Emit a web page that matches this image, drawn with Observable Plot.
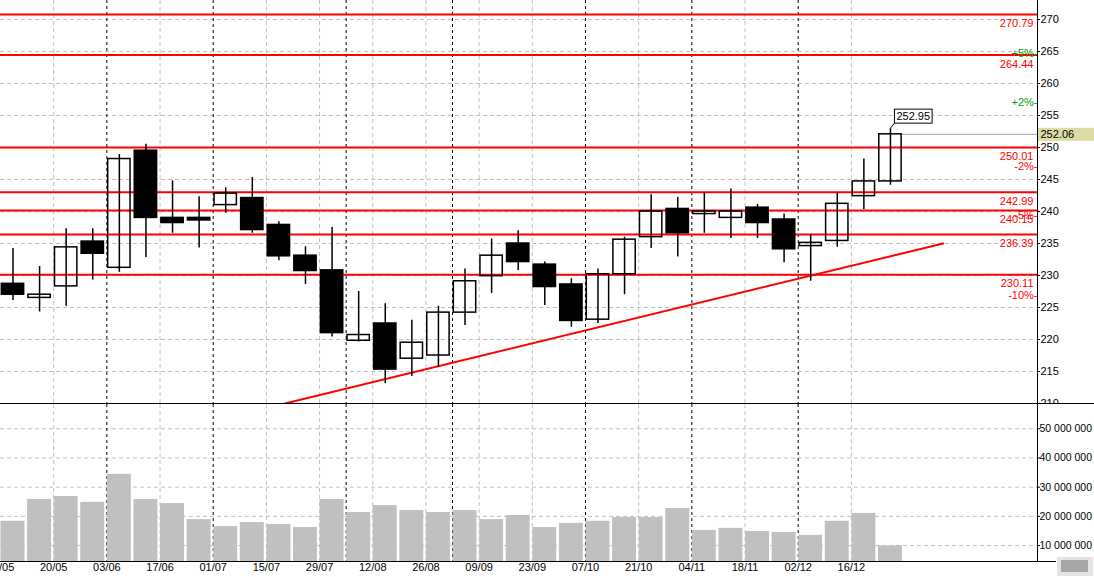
<!DOCTYPE html>
<html><head><meta charset="utf-8">
<script src="https://cdn.jsdelivr.net/npm/d3@7"></script>
<script src="https://cdn.jsdelivr.net/npm/@observablehq/plot@0.6"></script>
<style>
html,body{margin:0;padding:0;background:#fff;}
#chart{position:relative;width:1094px;height:577px;overflow:hidden;font-family:"Liberation Sans",Arial,sans-serif;}
#chart svg{display:block;}
.hline{position:absolute;left:0;width:1094px;height:1px;background:#000;}
#btn{position:absolute;left:1056px;top:556px;width:36px;height:19px;background:#e4e4e4;border:1px solid #fff;box-shadow:1px 1px 0 #a0a0a0;}
#btn div{position:absolute;left:4px;top:3px;width:27px;height:12px;background:#a8a8a8;}
</style></head><body><div id="chart"></div>
<script>
// Weekly candles (week start dates, 2013)
const dates = ["06/05","13/05","20/05","27/05","03/06","10/06","17/06","24/06","01/07","08/07","15/07","22/07","29/07","05/08","12/08","19/08","26/08","02/09","09/09","16/09","23/09","30/09","07/10","14/10","21/10","28/10","04/11","11/11","18/11","25/11","02/12","09/12","16/12","23/12"];
const open  = [228.7,226.5,228.3,235.3,231.2,249.5,239.0,239.0,241.0,242.1,237.9,233.1,230.8,219.8,222.5,217.0,217.5,224.2,229.9,235.0,231.7,228.6,223.1,230.2,236.0,240.4,239.6,239.0,240.6,238.75,234.6,235.4,242.4,244.7];
const high  = [234.2,231.4,237.3,237.3,248.9,250.5,244.8,242.3,243.7,245.3,238.4,234.5,237.5,227.5,225.6,223.0,225.2,231.0,235.7,237.0,232.1,229.5,231.0,236.0,242.6,242.2,242.9,243.5,241.1,239.6,236.4,242.9,248.2,252.95];
const low   = [226.1,224.3,225.2,229.3,230.5,232.8,236.6,234.3,239.7,236.6,232.3,228.6,220.4,219.6,213.1,214.2,215.7,222.2,227.2,230.8,225.3,221.9,222.5,227.0,234.2,232.9,236.6,235.8,235.8,232.0,229.1,234.4,240.3,244.1];
const close = [227.0,227.0,234.4,233.4,248.2,239.0,238.2,238.6,242.8,237.1,233.0,230.7,221.0,220.7,215.3,219.5,224.2,229.1,233.1,232.1,228.2,222.9,230.2,235.6,240.0,236.6,240.0,240.0,238.2,234.1,235.1,241.2,244.7,252.06];
const volume = [18.3e6,25.8e6,26.8e6,24.8e6,34.4e6,25.8e6,24.4e6,18.9e6,16.5e6,17.9e6,17.2e6,16.2e6,25.8e6,21.3e6,23.7e6,22.0e6,21.3e6,22.0e6,18.9e6,20.3e6,16.2e6,17.6e6,18.3e6,19.6e6,19.6e6,22.7e6,15.2e6,15.9e6,14.8e6,14.5e6,13.5e6,18.3e6,21.0e6,9.9e6];

// Horizontal support / resistance levels
const levels = [270.79,264.44,250.01,242.99,240.15,236.39,230.11];
// Percentage markers relative to last close
const pctLabels = ["+5%","+2%","-2%","-5%","-10%"];
const pctValues = [5,2,-2,-5,-10];
// Trend line (week index, price)
const trendWeek = [10.7,35.45];
const trendPrice = [210,235];

// Axis ticks
const priceTicks = [210,215,220,225,230,235,240,245,250,255,260,265,270];
const volumeTicks = [10000000,20000000,30000000,40000000,50000000];
const xDomain = [0,39];
const priceDomain = [210,272.97];
const volumeDomain = [4.55e6,58.3e6];

const candles = dates.map((d,i)=>({i, c:i+0.47, date:d, open:open[i], high:high[i], low:low[i], close:close[i], volume:volume[i]}));
const up = candles.filter(d=>d.close>=d.open);
const down = candles.filter(d=>d.close<d.open);
const monthStart = candles.filter(d=>d.i>0 && d.date.slice(3)!==dates[d.i-1].slice(3)).map(d=>d.i);
const labelIdx = candles.filter(d=>d.i%2===0).map(d=>d.i);
const grayIdx = labelIdx.filter(i=>!monthStart.includes(i) && i>0);
const last = candles[candles.length-1];
const lastClose = last.close;
const trend = trendWeek.map((w,k)=>({x:w,y:trendPrice[k]}));
const pct = pctLabels.map((l,k)=>({label:l,p:pctValues[k],y:lastClose*(1+pctValues[k]/100)}));
const bw = 0.42;

const font = {fontFamily:'"Liberation Sans",Arial,sans-serif', fontSize:"11px", background:"white", color:"#000"};
const W = 1094, R = 57;
const grayGrid = {stroke:"#c0c0c0", strokeDasharray:"4,3"};
const blackGrid = {stroke:"#000", strokeDasharray:"3,3"};

const price = Plot.plot({
  width:W, height:404, marginLeft:0, marginRight:R, marginTop:0, marginBottom:1,
  style:font,
  x:{domain:xDomain, axis:null},
  y:{domain:priceDomain, axis:"right", ticks:priceTicks, tickFormat:d=>String(d), tickSize:2, tickPadding:1, label:null},
  marks:[
    Plot.ruleY(priceTicks, grayGrid),
    Plot.ruleX(grayIdx, grayGrid),
    Plot.ruleX(monthStart, blackGrid),
    Plot.ruleY(levels, {stroke:"#ff0000", strokeWidth:2}),
    Plot.line(trend, {x:"x", y:"y", stroke:"#ff0000", strokeWidth:2}),
    Plot.ruleY([lastClose], {x1:last.c+bw, x2:xDomain[1], stroke:"#a0a0a0"}),
    Plot.ruleX(candles, {x:"c", y1:"low", y2:"high", stroke:"#000", strokeWidth:1.5}),
    Plot.rect(up, {x1:d=>d.c-bw, x2:d=>d.c+bw, y1:"open", y2:"close", fill:"none", stroke:"#000", strokeWidth:1.5}),
    Plot.rect(down, {x1:d=>d.c-bw, x2:d=>d.c+bw, y1:"open", y2:"close", fill:"#000", stroke:"#000", strokeWidth:1.5}),
    Plot.text(levels, {x:xDomain[1], y:d=>d, text:d=>d.toFixed(2), textAnchor:"end", dx:-4, dy:9, fill:"#ff0000"}),
    Plot.text(pct.filter(d=>d.p>0), {x:xDomain[1], y:"y", text:d=>d.label+"-", textAnchor:"end", fill:"#00a000"}),
    Plot.text(pct.filter(d=>d.p<0), {x:xDomain[1], y:"y", text:d=>d.label+"-", textAnchor:"end", fill:"#ff0000"}),
    Plot.text([lastClose], {x:xDomain[1], y:d=>d, text:d=>d.toFixed(2), textAnchor:"start", dx:3}),
    Plot.text([last], {x:"c", y:"high", text:d=>d.high.toFixed(2), textAnchor:"start", dx:6, dy:-12}),
    Plot.ruleX([xDomain[1]], {stroke:"#000"})
  ]
});

const fmtVol = d=>d3.format(",")(d).replace(/,/g," ");
const vol = Plot.plot({
  width:W, height:173, marginLeft:0, marginRight:R, marginTop:0, marginBottom:16,
  style:font,
  x:{domain:xDomain, ticks:labelIdx, tickFormat:i=>dates[i], tickSize:0, tickPadding:2, label:null},
  y:{domain:volumeDomain, axis:"right", ticks:volumeTicks, tickFormat:fmtVol, tickSize:2, tickPadding:0, label:null},
  marks:[
    Plot.ruleY(volumeTicks, grayGrid),
    Plot.ruleX(grayIdx, grayGrid),
    Plot.ruleX(monthStart, blackGrid),
    Plot.rect(candles, {x1:d=>d.c-0.45, x2:d=>d.c+0.45, y1:volumeDomain[0], y2:"volume", fill:"#c0c0c0"}),
    Plot.ruleX([xDomain[1]], {stroke:"#000"})
  ]
});

const chart = document.getElementById("chart");
chart.appendChild(price);
chart.appendChild(vol);
[403,561].forEach(t=>{const d=document.createElement("div");d.className="hline";d.style.top=t+"px";chart.appendChild(d);});
const b=document.createElement("div");b.id="btn";b.appendChild(document.createElement("div"));chart.appendChild(b);

// shrink the long volume tick labels slightly so they fit like the reference
d3.select(vol).selectAll("text").each(function(){
  if (/\d \d{3} \d{3}/.test(this.textContent)) d3.select(this).style("font-size","10.5px");
});

// Boxes behind the last-close label and the high annotation
const svg = d3.select(price);
svg.selectAll("text").each(function(){
  const t = this.textContent;
  const tr = this.getAttribute("transform");
  const parent = this.parentNode;
  if (t===lastClose.toFixed(2)) {
    const bb = this.getBBox();
    const r = d3.select(parent).insert("rect", ()=>this)
      .attr("x", bb.x-3).attr("y", bb.y).attr("width", 80).attr("height", bb.height+1)
      .attr("fill", "#dcdca4");
    if (tr) r.attr("transform", tr);
  }
  if (t===last.high.toFixed(2)) {
    const bb = this.getBBox();
    const r = d3.select(parent).insert("rect", ()=>this)
      .attr("x", bb.x-2).attr("y", bb.y-1).attr("width", bb.width+4).attr("height", bb.height+2)
      .attr("fill", "#fff").attr("stroke", "#000");
    const l = d3.select(parent).append("line")
      .attr("x1", bb.x-6).attr("y1", bb.y+bb.height/2+12)
      .attr("x2", bb.x-2).attr("y2", bb.y+bb.height+1)
      .attr("stroke", "#000");
    if (tr) { r.attr("transform", tr); l.attr("transform", tr); }
  }
});
</script></body></html>
